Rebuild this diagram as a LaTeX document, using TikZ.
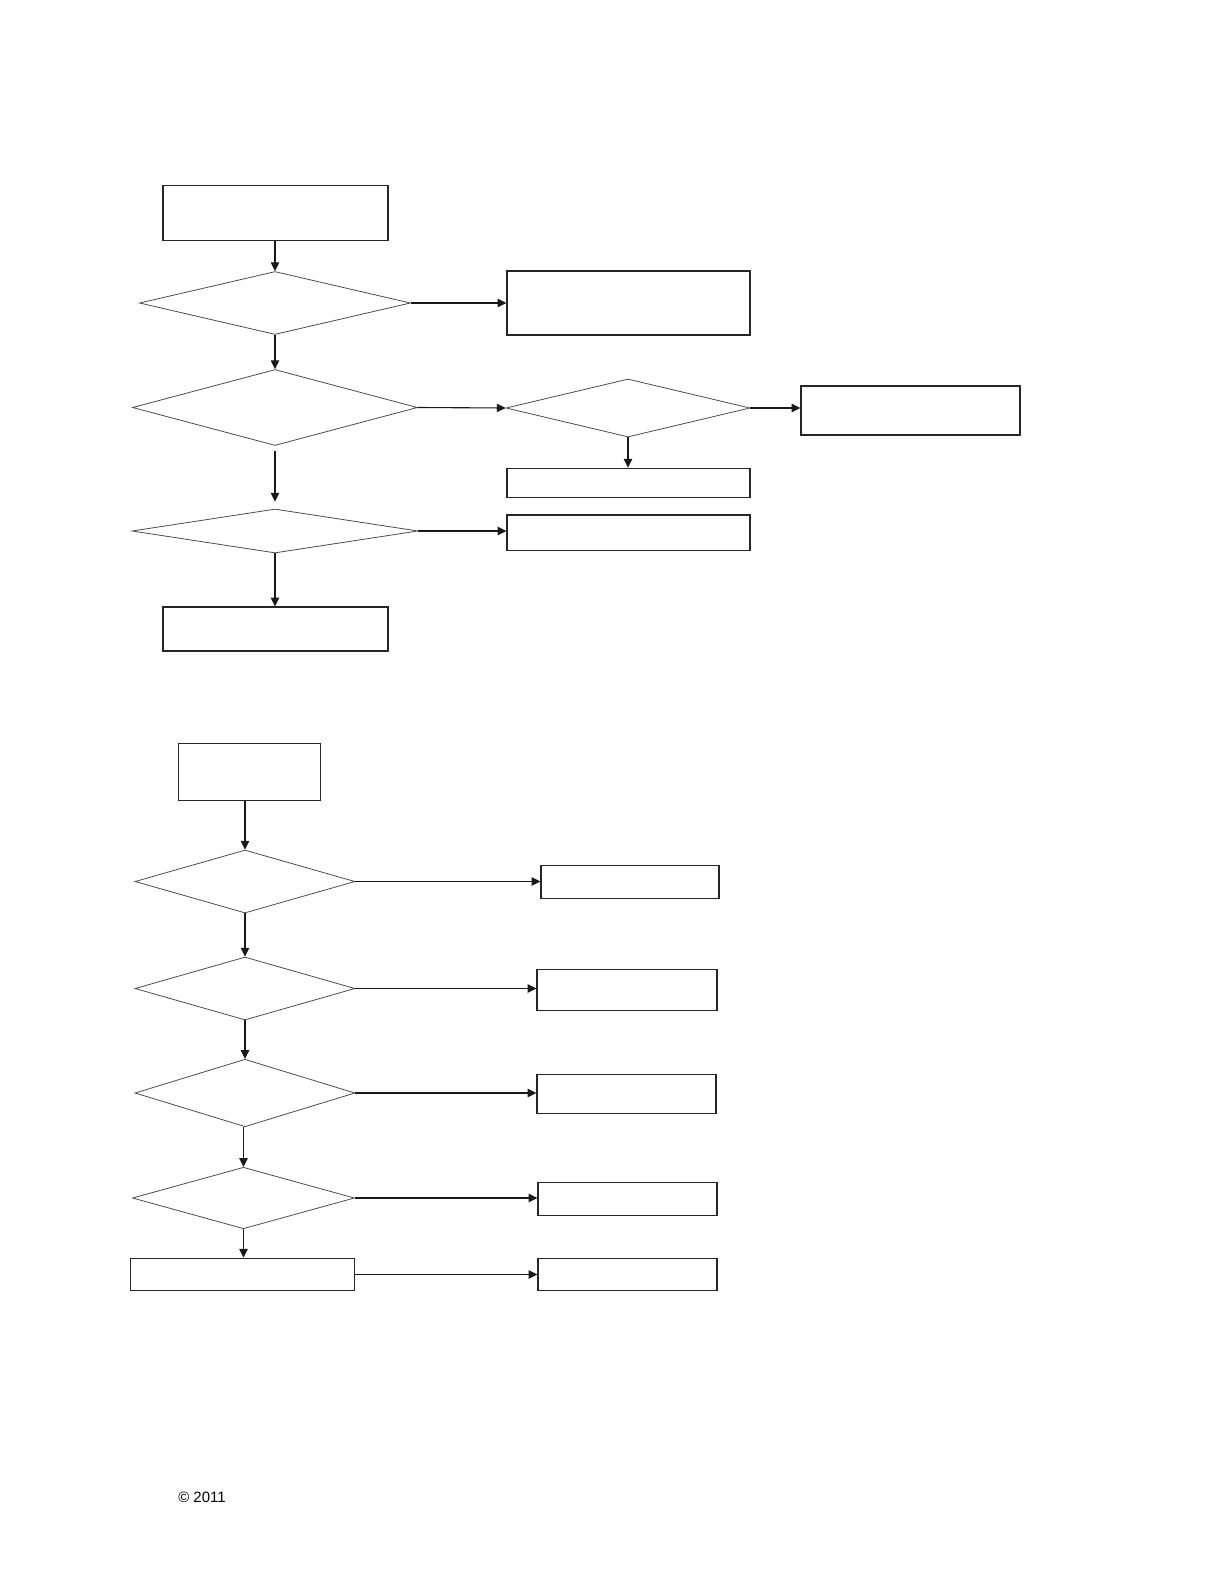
\documentclass[tikz,border=0pt]{standalone}
\usepackage{fontspec}
\setmainfont{Liberation Sans}
\usetikzlibrary{shapes.geometric,arrows.meta}
\begin{document}
\begin{tikzpicture}[x=0.5pt,y=-0.5pt,
  rbox/.style={draw=black!85,line width=0.6pt,inner sep=0pt},
  decide/.style={diamond,draw=black!70,line width=0.4pt,inner sep=0pt},
  link/.style={draw=black!90,line width=0.55pt,-{Triangle[length=4.4pt,width=4.2pt]}},
  every node/.style={font=\fontsize{7.5}{9}\selectfont}]
 \useasboundingbox (0,0) rectangle (1224,1584);
 % upper chart
 \node[rbox,minimum width=112.5pt,minimum height=27.75pt] (b1) at (275.5,213) {};
 \node[decide,minimum width=135.5pt,minimum height=31.5pt] (d1) at (275,303) {};
 \node[rbox,minimum width=121.5pt,minimum height=32pt] (r1) at (628.5,303) {};
 \node[decide,minimum width=142.5pt,minimum height=38pt] (d2) at (275,407.5) {};
 \node[decide,minimum width=122pt,minimum height=29pt] (d4) at (628,408) {};
 \node[rbox,minimum width=109.5pt,minimum height=24.5pt] (r2) at (910.5,410.5) {};
 \node[rbox,minimum width=121.5pt,minimum height=14.75pt] (r4) at (628.5,483) {};
 \node[decide,minimum width=143pt,minimum height=22pt] (d3) at (275,531) {};
 \node[rbox,minimum width=121.5pt,minimum height=17.75pt] (r3) at (628.5,532.7) {};
 \node[rbox,minimum width=112.5pt,minimum height=22pt] (b2) at (275.5,629) {};
 \draw[link] (b1.south -| d1.north) -- (d1.north);
 \draw[link] (d1.east) -- (r1.west);
 \draw[link] (d1.south) -- (d2.north);
 \draw[link] (d2.east) -- (d4.west);
 \draw[link] (d4.east) -- (d4.east -| r2.west);
 \draw[link] (d4.south) -- (d4.south |- r4.north);
 \draw[link,shorten <=2.5pt,shorten >=3.5pt] (d2.south) -- (d3.north);
 \draw[link] (d3.east) -- (d3.east -| r3.west);
 \draw[link] (d3.south) -- (d3.south |- b2.north);
 % lower chart
 \node[rbox,minimum width=70.75pt,minimum height=28.75pt] (b3) at (249.5,772) {};
 \node[decide,minimum width=110pt,minimum height=31.5pt] (d5) at (245,881.5) {};
 \node[rbox,minimum width=89pt,minimum height=16.75pt] (r5) at (630,882) {};
 \node[decide,minimum width=110pt,minimum height=31.5pt] (d6) at (245,988.5) {};
 \node[rbox,minimum width=90pt,minimum height=20.75pt] (r6) at (627,990) {};
 \node[decide,minimum width=110pt,minimum height=33.75pt] (d7) at (245,1093) {};
 \node[rbox,minimum width=89.5pt,minimum height=19.75pt] (r7) at (626.5,1094) {};
 \node[decide,minimum width=111pt,minimum height=30.75pt] (d8) at (243.5,1198) {};
 \node[rbox,minimum width=89.5pt,minimum height=16.75pt] (r8) at (627.5,1199) {};
 \node[rbox,minimum width=112pt,minimum height=16.25pt] (b4) at (242.5,1274.5) {};
 \node[rbox,minimum width=89.5pt,minimum height=16.25pt] (r9) at (627.5,1274.5) {};
 \draw[link] (d5.north |- b3.south) -- (d5.north);
 \draw[link] (d5.south) -- (d6.north);
 \draw[link] (d6.south) -- (d7.north);
 \draw[link] (d8.north |- d7.south) -- (d8.north);
 \draw[link] (d8.south) -- (d8.south |- b4.north);
 \foreach \d/\r in {d5/r5,d6/r6,d7/r7,d8/r8}
  \draw[link] (\d.east) -- (\d.east -| \r.west);
 \draw[link] (b4.east) -- (r9.west);
 \node[anchor=base] (copy) at (202,1502.7) {© 2011};
\end{tikzpicture}
\end{document}
